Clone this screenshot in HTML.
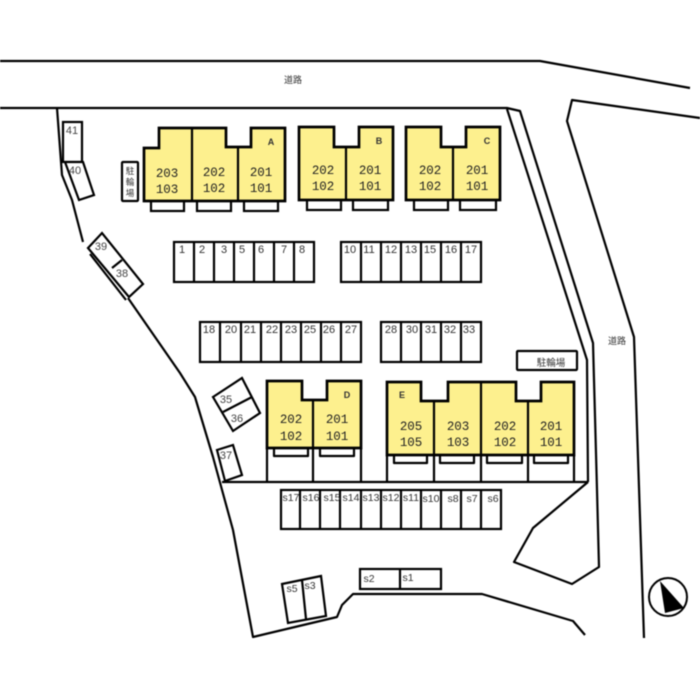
<!DOCTYPE html>
<html><head><meta charset="utf-8"><style>
html,body{margin:0;padding:0;background:#fff}
svg{display:block;filter:blur(.45px)}
text{font-family:"Liberation Sans","Noto Sans CJK JP",sans-serif;fill:#333;text-anchor:middle}
.l{fill:none;stroke:#000;stroke-width:2.2;stroke-linejoin:round}
.b{fill:#fdf08e;stroke:#000;stroke-width:2.7;stroke-linejoin:miter}
.c{fill:#fff;stroke:#000;stroke-width:2.2}
.n{font-size:11px;fill:#444}
.u{font-family:"Liberation Mono","Liberation Sans",monospace;font-size:12.5px;letter-spacing:-.1px;fill:#222}
.k{font-size:9px;font-weight:bold;fill:#333}
.s{font-family:"Liberation Serif",serif;font-size:10.5px;fill:#444}
.j{font-size:9px}
</style></head><body>
<svg width="700" height="700" viewBox="0 0 700 700" xmlns="http://www.w3.org/2000/svg">
<rect width="700" height="700" fill="#fff"/>
<!-- roads -->
<path class="l" d="M0 61H540L690 88"/>
<path class="l" d="M0 108H507L520 111L593 343L597 490L599 567L572 584L514 562L533 528L588 482"/>
<path class="l" d="M507 109L587 360L588 482"/>
<path class="l" d="M700 118L572 100L567 121L634 337L644 638"/>
<text x="293" y="83" class="j">道路</text>
<text x="617" y="344" class="j">道路</text>
<!-- boundary -->
<path class="l" d="M57 108L62 175L72 200L83 242"/>
<path class="l" d="M90 254L126 300"/>
<path class="l" d="M128 298L180 373L195 397L213 457L233 530L253 637L337 617L342 605L353 594H482L573 621L585 635"/>
<path class="l" d="M222 482H588"/>
<!-- top left stalls -->
<rect class="c" x="63" y="122" width="19" height="40"/>
<text x="72" y="134" class="n">41</text>
<path class="c" d="M65 162H83L94 195L79 200Z"/>
<text x="75" y="174" class="n">40</text>
<path class="c" d="M88 248L102 233L143 284L129 297Z"/>
<path class="l" d="M112 268L122 260"/>
<text x="101" y="250" class="n">39</text>
<text x="122" y="277" class="n">38</text>
<rect class="c" x="122" y="162" width="16" height="39" rx="1"/>
<text x="130" y="174" class="j" style="font-size:8.5px">駐</text>
<text x="130" y="185" class="j" style="font-size:8.5px">輪</text>
<text x="130" y="196" class="j" style="font-size:8.5px">場</text>
<!-- A -->
<rect class="c" x="151" y="199" width="33" height="12"/><rect class="c" x="197" y="199" width="34" height="12"/><rect class="c" x="244" y="199" width="34" height="12"/>
<path class="b" d="M144 148H159V128H226V147H251V128H285V201H144Z"/>
<path class="l" d="M192 128V201M238 147V201"/>
<text x="271" y="145" class="k">A</text>
<text x="167" y="177" class="u">203</text><text x="167" y="193" class="u">103</text>
<text x="214" y="176" class="u">202</text><text x="214" y="192" class="u">102</text>
<text x="261" y="176" class="u">201</text><text x="261" y="192" class="u">101</text>
<!-- B -->
<rect class="c" x="307" y="198" width="34" height="12"/><rect class="c" x="353" y="198" width="35" height="12"/>
<path class="b" d="M299 127H334V147H359V127H393V200H299Z"/>
<path class="l" d="M346 147V200"/>
<text x="379" y="144" class="k">B</text>
<text x="323" y="174" class="u">202</text><text x="323" y="190" class="u">102</text>
<text x="370" y="174" class="u">201</text><text x="370" y="190" class="u">101</text>
<!-- C -->
<rect class="c" x="414" y="198" width="34" height="12"/><rect class="c" x="460" y="198" width="36" height="12"/>
<path class="b" d="M406 127H441V147H466V127H500V200H406Z"/>
<path class="l" d="M453 147V200"/>
<text x="487" y="144" class="k">C</text>
<text x="430" y="174" class="u">202</text><text x="430" y="190" class="u">102</text>
<text x="477" y="174" class="u">201</text><text x="477" y="190" class="u">101</text>
<!-- Row 1 -->
<rect class="c" x="174" y="242" width="140" height="40"/>
<path class="l" d="M194 242V282M214 242V282M234 242V282M254 242V282M274 242V282M294 242V282"/>
<g class="n"><text x="182" y="253">1</text><text x="202" y="253">2</text><text x="224" y="253">3</text><text x="242" y="253">5</text><text x="261" y="253">6</text><text x="284" y="253">7</text><text x="302" y="253">8</text></g>
<!-- Row 2 -->
<rect class="c" x="341" y="242" width="140" height="40"/>
<path class="l" d="M361 242V282M381 242V282M401 242V282M421 242V282M441 242V282M461 242V282"/>
<g class="n"><text x="350" y="253">10</text><text x="369" y="253">11</text><text x="391" y="253">12</text><text x="411" y="253">13</text><text x="430" y="253">15</text><text x="451" y="253">16</text><text x="471" y="253">17</text></g>
<!-- Row 3 -->
<rect class="c" x="200" y="322" width="161" height="40"/>
<path class="l" d="M220 322V362M241 322V362M261 322V362M281 322V362M301 322V362M321 322V362M341 322V362"/>
<g class="n"><text x="209" y="333">18</text><text x="231" y="333">20</text><text x="250" y="333">21</text><text x="272" y="333">22</text><text x="291" y="333">23</text><text x="310" y="333">25</text><text x="329" y="333">26</text><text x="351" y="333">27</text></g>
<!-- Row 4 -->
<rect class="c" x="381" y="322" width="100" height="40"/>
<path class="l" d="M401 322V362M421 322V362M441 322V362M461 322V362"/>
<g class="n"><text x="391" y="333">28</text><text x="412" y="333">30</text><text x="431" y="333">31</text><text x="450" y="333">32</text><text x="469" y="333">33</text></g>
<!-- sign -->
<rect class="c" x="517" y="351" width="60" height="19" rx="1"/>
<text x="551" y="366" class="j" style="font-size:9.5px">駐輪場</text>
<!-- 35 36 37 -->
<path class="c" d="M213 397L242 378L260 413L233 431Z"/>
<path class="l" d="M223 412L252 397"/>
<text x="226" y="403" class="n">35</text><text x="237" y="422" class="n">36</text>
<path class="c" d="M217 450L233 445L242 475L225 481Z"/>
<text x="226" y="459" class="n">37</text>
<!-- D -->
<path class="l" d="M267 448V482M313 448V482M361 448V482"/>
<path class="l" d="M274 448V456H308V448M320 448V456H354V448"/>
<path class="b" d="M267 381H302V400H327V381H361V448H267Z"/>
<path class="l" d="M313 400V448"/>
<text x="347" y="398" class="k">D</text>
<text x="291" y="423" class="u">202</text><text x="291" y="440" class="u">102</text>
<text x="337" y="423" class="u">201</text><text x="337" y="440" class="u">101</text>
<!-- E -->
<path class="l" d="M387 455V482M434 455V482M481 455V482M528 455V482M574 455V482"/>
<path class="l" d="M394 455V463H427V455M440 455V463H474V455M487 455V463H522V455M534 455V463H568V455"/>
<path class="b" d="M387 382H421V401H448V382H516V401H541V382H574V455H387Z"/>
<path class="l" d="M434 401V455M481 382V455M528 401V455"/>
<text x="402" y="398" class="k">E</text>
<text x="411" y="430" class="u">205</text><text x="411" y="446" class="u">105</text>
<text x="458" y="430" class="u">203</text><text x="458" y="446" class="u">103</text>
<text x="505" y="430" class="u">202</text><text x="505" y="446" class="u">102</text>
<text x="551" y="430" class="u">201</text><text x="551" y="446" class="u">101</text>
<!-- s row -->
<rect class="c" x="281" y="490" width="220" height="39"/>
<path class="l" d="M300 490V529M320 490V529M340 490V529M361 490V529M381 490V529M401 490V529M421 490V529M441 490V529M461 490V529M481 490V529"/>
<g class="s"><text x="291" y="501">s17</text><text x="311" y="501">s16</text><text x="332" y="501">s15</text><text x="351" y="501">s14</text><text x="371" y="501">s13</text><text x="391" y="501">s12</text><text x="411" y="501">s11</text><text x="431" y="502">s10</text><text x="453" y="502">s8</text><text x="472" y="502">s7</text><text x="493" y="502">s6</text></g>
<!-- s2 s1 -->
<rect class="c" x="360" y="569" width="81" height="20"/>
<path class="l" d="M400 569V589"/>
<g class="s"><text x="369" y="582">s2</text><text x="408" y="581">s1</text></g>
<!-- s5 s3 -->
<path class="c" d="M282 584L321 576L326 616L288 623Z"/>
<path class="l" d="M302 580L306 619"/>
<g class="s"><text x="292" y="592">s5</text><text x="310" y="589">s3</text></g>
<!-- compass -->
<circle cx="668" cy="597" r="19" fill="#fff" stroke="#000" stroke-width="2"/>
<path d="M660 581L684 608L665 613Z" fill="#000"/>
</svg>
</body></html>
